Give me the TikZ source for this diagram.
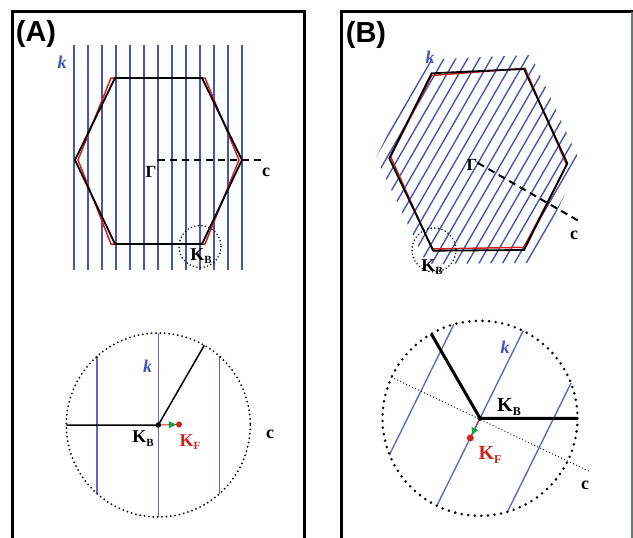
\documentclass[tikz,border=0pt]{standalone}
\usepackage{fontspec}
\setmainfont{Liberation Serif}
\newfontfamily\labfont{Liberation Sans}
\usetikzlibrary{arrows.meta,calc}
\definecolor{kblue}{RGB}{72,84,182}
\definecolor{kbluelt}{RGB}{95,105,200}
\definecolor{redc}{RGB}{205,35,30}
\definecolor{greenc}{RGB}{25,160,70}
\definecolor{framegray}{RGB}{110,115,115}
\newcommand\subK[4]{{\fontsize{#1}{#1}\selectfont K}\raisebox{-#3pt}{\fontsize{#2}{#2}\selectfont #4}}
\begin{document}
\begin{tikzpicture}[x=1pt,y=-1pt,
  frame/.style={line width=3pt},
  hexblack/.style={line width=1.8pt,line join=miter},
  hexred/.style={redc,line width=1.5pt,line join=miter},
  kline/.style={kblue,line width=1.4pt},
  klinelt/.style={kbluelt,line width=1.4pt},
  smallcirc/.style={line width=1.7pt,dash pattern=on 0pt off 3.6pt,line cap=round},
  bigcircA/.style={line width=2pt,dash pattern=on 0pt off 4.4pt,line cap=round},
  bigcircB/.style={line width=2.8pt,dash pattern=on 0pt off 6.6pt,line cap=round},
  cdash/.style={line width=2pt,dash pattern=on 7pt off 5pt},
  panellab/.style={font=\labfont\bfseries\fontsize{29}{29}\selectfont,inner sep=0pt},
  klab/.style={text=kblue,font=\bfseries\itshape\fontsize{18}{18}\selectfont,inner sep=0pt},
  clab/.style={font=\bfseries\fontsize{18}{18}\selectfont,inner sep=0pt},
  glab/.style={font=\bfseries\fontsize{17}{17}\selectfont,inner sep=0pt},
  kblab/.style={font=\bfseries,inner sep=0pt},
  kflab/.style={text=redc,font=\bfseries,inner sep=0pt},
  dot/.style={circle,fill,inner sep=0pt,minimum size=#1}
]
\useasboundingbox (0,0) rectangle (633,538);
% frames
\draw[frame] (12.5,538) -- (12.5,11.5) -- (304,11.5) -- (304,538);
\draw[frame] (341.5,538) -- (341.5,11.5) -- (633,11.5);
\draw[framegray,line width=1.5pt] (632,11.5) -- (632,538);
\node[panellab] (labA) at (36,34) {(A)};
\node[panellab] (labB) at (366,35) {(B)};

% ---------- Panel A top
\foreach \i in {0,...,12}{
  \draw[kline] (74+14*\i,45) -- (74+14*\i,270);
}
\draw[hexred] (111,78) -- (205,78) -- (239,160) -- (205,244) -- (111,244) -- (78,160) -- cycle;
\draw[hexblack] (115,78) -- (202,78) -- (242,160) -- (202,244) -- (115,244) -- (75,160) -- cycle;
\coordinate (GA) at (158.3,160);
\coordinate (cA) at (265,160);
\draw[cdash] (GA) -- (cA);
\node[dot=3pt] (GAd) at (GA) {};
\node[glab] (GlabA) at (151,172) {Γ};
\node[clab] (clabA) at (266,172) {c};
\node[klab] (kA) at (62,62) {k};
\draw[smallcirc] (200,246.5) circle (21);
\node[kblab] (KBA) at (201,256) {\subK{18}{11}{3.5}{B}};

% ---------- Panel A bottom
\coordinate (CA) at (158.3,425);
\draw[klinelt] (158.3,333) -- (158.3,517);
\draw[klinelt] (97,356.4) -- (97,493.6);
\draw[klinelt] (219.6,356.4) -- (219.6,493.6);
\draw[bigcircA] (CA) circle (92);
\coordinate (LA) at (66.3,425);
\coordinate (UA) at (204.3,345.3);
\draw[line width=1.5pt] (LA) -- (CA) -- (UA);
\coordinate (KFA) at (179,424.5);
\draw[redc,line width=1pt] (CA) -- (KFA);
\draw[greenc,-{Triangle[length=7pt,width=7pt]},line width=0.8pt,shorten >=3pt,shorten <=10pt] (CA) -- (KFA);
\node[dot=6pt,fill=redc] (KFAd) at (KFA) {};
\node[dot=5.5pt] (CAd) at (CA) {};
\node[klab] (kA2) at (147.7,366) {k};
\node[kblab] (KBA2) at (143,438.5) {\subK{18}{11}{3.5}{B}};
\node[kflab] (KFA2) at (190,442) {\subK{18}{11}{3.5}{F}};
\node[clab] (cA2) at (270,434) {c};

% ---------- Panel B top
\coordinate (GB) at (478,163);
\begin{scope}
\clip (424.8,59.8) -- (530.9,54.9) -- (580.7,163.3) -- (530.9,263) -- (426.6,263.9) -- (376,157.6) -- cycle;
\foreach \k in {-9,...,9}{
  \pgfmathsetmacro\d{10.2*\k}
  \draw[kline] ($(GB)+(0.866*\d,0.5*\d)+(-0.5*140,0.866*140)$) -- ($(GB)+(0.866*\d,0.5*\d)+(0.5*140,-0.866*140)$);
}
\end{scope}
\draw[hexred] (431.7,75.5) -- (525,68.3) -- (566.7,165) -- (524,247.3) -- (432,249) -- (390.7,156.7) -- cycle;
\draw[hexblack] (431.7,73.3) -- (524,69) -- (567.3,163.3) -- (524,250) -- (433.3,250.7) -- (389.3,158.3) -- cycle;
\coordinate (cB) at (580,221.7);
\draw[cdash] (GB) -- (cB);
\node[dot=3pt] (GBd) at (GB) {};
\node[glab] (GlabB) at (472,165) {Γ};
\node[clab] (clabB) at (574,235) {c};
\node[klab] (kB) at (430,57) {k};
\draw[smallcirc] (434,250) circle (22);
\node[kblab] (KBB) at (432,267) {\subK{18}{11}{3.5}{B}};

% ---------- Panel B bottom
\coordinate (CB) at (480,418.3);
\draw[klinelt] (453.9,324.3) -- (389.5,454.7);
\draw[klinelt] (523.2,330.8) -- (436.8,505.8);
\draw[klinelt] (571,383.1) -- (507.4,511.9);
\draw[line width=1.3pt,dash pattern=on 0pt off 3.3pt,line cap=round] (391.7,377.3) -- (590,471.7);
\draw[bigcircB] (CB) circle (97.5);
\coordinate (RB) at (577.5,418.3);
\coordinate (UB) at (431.3,333.9);
\draw[line width=3pt] (UB) -- (CB) -- (RB);
\coordinate (KFB) at (470.3,438);
\draw[redc,line width=1pt] (CB) -- (KFB);
\draw[greenc,-{Triangle[length=7pt,width=7pt]},line width=0.8pt,shorten >=3.5pt,shorten <=8pt] (CB) -- (KFB);
\node[dot=7pt,fill=redc] (KFBd) at (KFB) {};
\node[dot=5pt] (CBd) at (CB) {};
\node[klab] (kB2) at (505,347) {k};
\node[kblab] (KBB2) at (509,407) {\subK{20}{12}{4}{B}};
\node[kflab] (KFB2) at (490,455) {\subK{20}{12}{4}{F}};
\node[clab] (cB2) at (585,485) {c};
\end{tikzpicture}
\end{document}
